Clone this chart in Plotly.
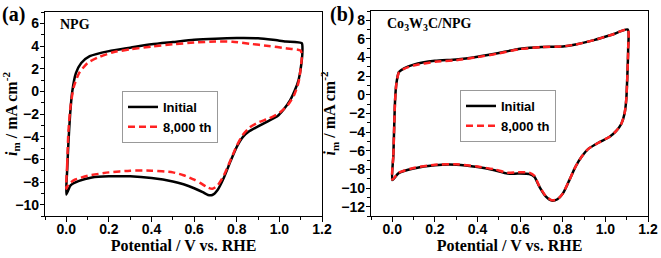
import plotly.graph_objects as go

# ---- data ----
a_init_x = [0.0, 0.004, 0.01, 0.018, 0.028, 0.045, 0.07, 0.11, 0.2, 0.3, 0.4, 0.5, 0.6, 0.7, 0.8, 0.9, 0.97, 1.03, 1.105,
            1.108, 1.1, 1.09, 1.075, 1.05, 1.02, 0.99, 0.95, 0.9, 0.86, 0.83, 0.8, 0.77, 0.74, 0.71, 0.685, 0.665, 0.64,
            0.6, 0.55, 0.5, 0.4, 0.3, 0.2, 0.12, 0.06, 0.02, 0.0]
a_init_y = [-9.1, -7.0, -4.5, -2.0, 0.0, 1.6, 2.5, 3.1, 3.55, 3.85, 4.15, 4.35, 4.55, 4.65, 4.7, 4.68, 4.55, 4.4, 4.25,
            3.5, 2.0, 1.0, 0.2, -0.8, -1.6, -2.2, -2.6, -3.1, -3.5, -4.0, -4.9, -6.2, -7.6, -8.7, -9.15, -9.15, -8.9,
            -8.55, -8.2, -7.95, -7.65, -7.5, -7.5, -7.6, -7.9, -8.3, -9.1]

a_cyc_x = [0.0, 0.004, 0.01, 0.02, 0.035, 0.06, 0.1, 0.15, 0.22, 0.3, 0.4, 0.5, 0.6, 0.7, 0.78, 0.86, 0.95, 1.03, 1.1,
           1.105, 1.1, 1.09, 1.07, 1.04, 1.0, 0.95, 0.9, 0.86, 0.83, 0.8, 0.77, 0.74, 0.71, 0.685, 0.66, 0.63, 0.6,
           0.55, 0.5, 0.4, 0.3, 0.2, 0.1, 0.04, 0.01, 0.0]
a_cyc_y = [-8.6, -6.5, -3.5, -1.3, 0.4, 1.6, 2.5, 3.0, 3.45, 3.7, 3.95, 4.15, 4.3, 4.4, 4.38, 4.2, 4.0, 3.8, 3.6,
           3.0, 2.0, 0.8, -0.3, -1.2, -1.9, -2.4, -2.75, -3.2, -3.8, -4.8, -6.1, -7.4, -8.3, -8.6, -8.45, -8.1, -7.8,
           -7.4, -7.15, -7.0, -7.0, -7.15, -7.45, -7.8, -8.2, -8.6]

b_init_x = [0.0, 0.005, 0.008, 0.013, 0.019, 0.031, 0.055, 0.1, 0.2, 0.3, 0.4, 0.5, 0.6, 0.7, 0.8, 0.86, 0.95, 1.03, 1.105,
            1.107, 1.103, 1.098, 1.09, 1.075, 1.05, 1.02, 0.97, 0.92, 0.89, 0.86, 0.83, 0.8, 0.775, 0.748, 0.72, 0.69,
            0.667, 0.643, 0.59, 0.54, 0.48, 0.4, 0.3, 0.2, 0.1, 0.03, 0.0]
b_init_y = [-9.15, -6.5, -4.1, -0.6, 1.2, 2.45, 2.85, 3.25, 3.65, 3.8, 4.1, 4.5, 4.95, 5.15, 5.2, 5.4, 5.9, 6.45, 7.0,
            5.0, 2.0, -0.5, -2.0, -3.1, -3.9, -4.5, -5.1, -5.8, -6.6, -7.7, -9.2, -10.6, -11.2, -11.35, -10.9, -9.85,
            -8.8, -8.5, -8.45, -8.45, -8.1, -7.75, -7.5, -7.55, -7.9, -8.4, -9.15]

b_cyc_x = b_init_x
b_cyc_y = [-9.1, -6.5, -4.1, -0.6, 1.15, 2.4, 2.8, 3.15, 3.55, 3.72, 4.05, 4.45, 4.92, 5.12, 5.2, 5.4, 5.9, 6.45, 7.0,
           5.0, 2.0, -0.5, -2.0, -3.1, -3.9, -4.5, -5.1, -5.8, -6.6, -7.7, -9.2, -10.6, -11.2, -11.3, -10.85, -9.8,
           -8.7, -8.35, -8.3, -8.35, -8.0, -7.7, -7.45, -7.5, -7.85, -8.35, -9.1]

x_ticks = [0.0, 0.2, 0.4, 0.6, 0.8, 1.0, 1.2]
a_y_ticks = [-10, -8, -6, -4, -2, 0, 2, 4, 6]
b_y_ticks = [-12, -10, -8, -6, -4, -2, 0, 2, 4, 6, 8]
series_names = ["Initial", "8,000 th"]

W, H = 661, 258
fig = go.Figure()

def line(color, dash):
    return dict(color=color, width=2.5, dash=dash, shape="spline", smoothing=0.6)

RED = "#ff2222"
fig.add_trace(go.Scatter(x=a_init_x, y=a_init_y, mode="lines", name=series_names[0],
                         line=line("black", "solid"), xaxis="x", yaxis="y", legend="legend"))
fig.add_trace(go.Scatter(x=a_cyc_x, y=a_cyc_y, mode="lines", name=series_names[1],
                         line=line(RED, "7px,4px"), xaxis="x", yaxis="y", legend="legend"))
fig.add_trace(go.Scatter(x=b_init_x, y=b_init_y, mode="lines", name=series_names[0],
                         line=line("black", "solid"), xaxis="x2", yaxis="y2", legend="legend2"))
fig.add_trace(go.Scatter(x=b_cyc_x, y=b_cyc_y, mode="lines", name=series_names[1],
                         line=line(RED, "7px,4px"), xaxis="x2", yaxis="y2", legend="legend2"))

tickfont = dict(family="Liberation Sans", size=14, color="black", weight="bold")
titlefont = dict(family="Liberation Serif", size=16, color="black", weight="bold")

def xax(domain, anchor):
    return dict(domain=domain, anchor=anchor, range=[-0.1, 1.2], tickvals=x_ticks, tickformat=".1f",
                automargin=False, ticklabelstandoff=-5,
                ticks="outside", ticklen=5, tickwidth=1.2, tickcolor="black",
                minor=dict(dtick=0.1, tick0=0, ticks="outside", ticklen=3, tickwidth=1, tickcolor="black"),
                showline=True, linecolor="black", linewidth=1.3, mirror=True, showgrid=False, zeroline=False,
                tickfont=tickfont, title=dict(text="Potential / V vs. RHE", font=titlefont, standoff=0))

def yax(domain, anchor, rng, tv):
    return dict(domain=domain, anchor=anchor, range=rng, tickvals=tv, automargin=False,
                ticklabelstandoff=-2,
                ticks="outside", ticklen=4, tickwidth=1.2, tickcolor="black",
                minor=dict(dtick=1, tick0=0, ticks="outside", ticklen=2.5, tickwidth=1, tickcolor="black"),
                showline=True, linecolor="black", linewidth=1.3, mirror=True, showgrid=False, zeroline=False,
                tickfont=tickfont,
                title=dict(text="<i>i</i><sub>m</sub> / mA cm<sup>-2</sup>", font=titlefont, standoff=1))

legfont = dict(family="Liberation Sans", size=13, color="black", weight="bold")
fig.update_layout(
    width=W, height=H, margin=dict(l=0, r=0, t=0, b=0, autoexpand=False),
    paper_bgcolor="white", plot_bgcolor="white",
    xaxis=xax([45 / W, 322 / W], "y"),
    yaxis=yax([42 / H, 246 / H], "x", [-11, 7], a_y_ticks),
    xaxis2=xax([371 / W, 648 / W], "y2"),
    yaxis2=yax([42 / H, 247 / H], "x2", [-13, 9], b_y_ticks),
    legend=dict(x=122 / W, y=1 - 91 / H, xanchor="left", yanchor="top", bgcolor="white",
                bordercolor="#999999", borderwidth=1, font=legfont, tracegroupgap=0,
                itemwidth=30, traceorder="normal"),
    legend2=dict(x=460 / W, y=1 - 90 / H, xanchor="left", yanchor="top", bgcolor="white",
                 bordercolor="#999999", borderwidth=1, font=legfont, tracegroupgap=0,
                 itemwidth=30, traceorder="normal"),
    annotations=[
        dict(text="<b>(a)</b>", x=0 / W, y=1 - 1 / H, xref="paper", yref="paper", xanchor="left", yanchor="top",
             showarrow=False, font=dict(family="Liberation Serif", size=20, color="black")),
        dict(text="<b>(b)</b>", x=328 / W, y=1 - 1 / H, xref="paper", yref="paper", xanchor="left", yanchor="top",
             showarrow=False, font=dict(family="Liberation Serif", size=20, color="black")),
        dict(text="<b>NPG</b>", x=58 / W, y=1 - 25 / H, xref="paper", yref="paper", xanchor="left", yanchor="middle",
             showarrow=False, font=dict(family="Liberation Serif", size=14, color="black")),
        dict(text="<b>Co<sub>3</sub>W<sub>3</sub>C/NPG</b>", x=385 / W, y=1 - 25 / H, xref="paper", yref="paper",
             xanchor="left", yanchor="middle", showarrow=False,
             font=dict(family="Liberation Serif", size=14, color="black")),
    ],
)

fig.write_html("out.html", config={"displayModeBar": False},
               post_script="document.body.style.margin='0';document.body.style.padding='0';"
                           "document.body.style.overflow='hidden';")
